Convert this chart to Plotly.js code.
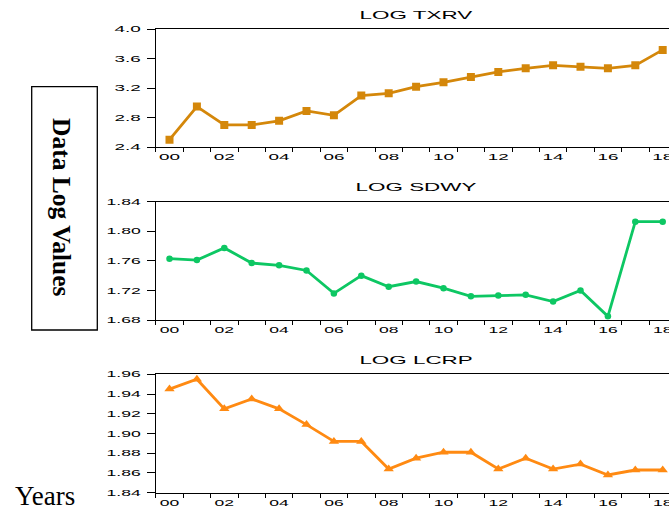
<!DOCTYPE html>
<html>
<head>
<meta charset="utf-8">
<script src="https://cdn.plot.ly/plotly-3.0.1.min.js"></script>
<style>
html, body { margin: 0; padding: 0; overflow: hidden; background: #fff; }
#chart { width: 690px; height: 510px; }
</style>
</head>
<body>
<div id="chart"></div>
<script>
// ---- data ----
const years = [2000, 2001, 2002, 2003, 2004, 2005, 2006, 2007, 2008, 2009,
               2010, 2011, 2012, 2013, 2014, 2015, 2016, 2017, 2018];
const tickYears = [2000, 2002, 2004, 2006, 2008, 2010, 2012, 2014, 2016, 2018];
const tickLabels = ['00', '02', '04', '06', '08', '10', '12', '14', '16', '18'];
const logTXRV = [2.50, 2.95, 2.70, 2.70, 2.756, 2.89, 2.83, 3.10, 3.13, 3.22,
                 3.28, 3.35, 3.42, 3.47, 3.51, 3.49, 3.47, 3.51, 3.72];
const logSDWY = [1.763, 1.761, 1.7775, 1.757, 1.754, 1.747, 1.716, 1.740, 1.725, 1.732,
                 1.723, 1.712, 1.713, 1.714, 1.705, 1.720, 1.685, 1.813, 1.813];
const logLCRP = [1.945, 1.955, 1.925, 1.935, 1.925, 1.909, 1.892, 1.892, 1.864, 1.875,
                 1.881, 1.881, 1.864, 1.875, 1.864, 1.869, 1.858, 1.863, 1.863];
const panelTitles = ['LOG TXRV', 'LOG SDWY', 'LOG LCRP'];
const yTickVals = [[2.4, 2.8, 3.2, 3.6, 4.0],
                   [1.68, 1.72, 1.76, 1.80, 1.84],
                   [1.84, 1.86, 1.88, 1.90, 1.92, 1.94, 1.96]];
const yLabel = 'Data Log Values';
const xLabel = 'Years';

// ---- layout helpers ----
const W = 690, H = 510;
const px = v => v / W;
const py = v => 1 - v / H;
const xDomain = [px(155.8), px(676.4)];
const yDomains = [[py(147), py(29.3)], [py(320), py(201.7)], [py(492.7), py(374.3)]];
const yFormats = ['.1f', '.2f', '.2f'];
const colors = ['#D4870A', '#0DC763', '#FF8A12'];
const symbols = ['square', 'circle', 'triangle-up'];
const msizes = [8, 6.5, 9];
const series = [logTXRV, logSDWY, logLCRP];
const chartFont = 'Liberation Sans, Arial, sans-serif';

const minorVals = [];
for (let i = 0; i <= years.length; i++) minorVals.push(years[0] - 0.5 + i);

const traces = [];
const layout = {
  width: W, height: H,
  margin: {l: 0, r: 0, t: 0, b: 0},
  paper_bgcolor: '#fff', plot_bgcolor: '#fff',
  showlegend: false,
  annotations: [], shapes: []
};

series.forEach((vals, i) => {
  const k = i === 0 ? '' : String(i + 1);
  traces.push({
    x: years, y: vals, xaxis: 'x' + k, yaxis: 'y' + k,
    type: 'scatter', mode: 'lines+markers',
    line: {color: colors[i], width: 2.8},
    marker: {symbol: symbols[i], size: msizes[i], color: colors[i]},
    hoverinfo: 'skip'
  });
  const yr = yTickVals[i];
  layout['xaxis' + k] = {
    domain: xDomain, anchor: 'y' + k,
    range: [years[0] - 0.5, years[years.length - 1] + 0.5],
    tickmode: 'array', tickvals: tickYears, ticktext: tickLabels,
    ticks: '', showgrid: false, zeroline: false,
    showline: true, linecolor: '#000', linewidth: 1.2, mirror: true,
    tickfont: {family: chartFont, size: 9, color: '#000'},
    ticklabelstandoff: 1,
    minor: {tickmode: 'array', tickvals: minorVals, ticks: 'outside', ticklen: 4,
            tickwidth: 1, tickcolor: '#000', showgrid: false},
    automargin: false, fixedrange: true
  };
  layout['yaxis' + k] = {
    domain: yDomains[i], anchor: 'x' + k,
    range: [yr[0], yr[yr.length - 1]],
    tickmode: 'array', tickvals: yr, tickformat: yFormats[i],
    ticks: 'outside', ticklen: 8, tickwidth: 1, tickcolor: '#000',
    showgrid: false, zeroline: false,
    showline: true, linecolor: '#000', linewidth: 1.2, mirror: true,
    tickfont: {family: chartFont, size: 9, color: '#000'},
    ticklabelstandoff: 4,
    automargin: false, fixedrange: true
  };
  layout.annotations.push({
    text: panelTitles[i], xref: 'paper', yref: 'paper',
    x: (xDomain[0] + xDomain[1]) / 2, y: yDomains[i][1],
    xanchor: 'center', yanchor: 'middle', yshift: 14.5, showarrow: false,
    font: {family: chartFont, size: 11.5, color: '#000'}
  });
});

layout.shapes.push({
  type: 'rect', xref: 'paper', yref: 'paper',
  x0: px(31.7), x1: px(97.3), y0: py(330), y1: py(86.7),
  line: {color: '#000', width: 1.3}, fillcolor: 'rgba(0,0,0,0)'
});
layout.annotations.push({
  text: yLabel, xref: 'paper', yref: 'paper', x: px(62), y: py(207),
  xanchor: 'center', yanchor: 'middle', textangle: 90, showarrow: false,
  font: {family: 'Liberation Serif, Times New Roman, serif', size: 25.5, weight: 'bold', color: '#000'}
});
layout.annotations.push({
  text: xLabel, xref: 'paper', yref: 'paper', x: px(45), y: py(496),
  xanchor: 'center', yanchor: 'middle', showarrow: false,
  font: {family: 'Liberation Serif, Times New Roman, serif', size: 27, color: '#000'}
});

Plotly.newPlot('chart', traces, layout, {staticPlot: true, displayModeBar: false}).then(() => {
  // the original graph was stretched horizontally; widen its Arial-style texts
  document.querySelectorAll('#chart svg text').forEach(t => {
    const fam = t.style.fontFamily || '';
    if (fam.indexOf('Liberation Sans') === -1) return;
    const inTick = t.closest('.xtick, .ytick');
    const factor = inTick ? 2.1 : 1.95;
    const w = t.getComputedTextLength();
    if (w > 0) {
      t.setAttribute('textLength', (w * factor).toFixed(1));
      t.setAttribute('lengthAdjust', 'spacingAndGlyphs');
    }
  });
});
</script>
</body>
</html>
